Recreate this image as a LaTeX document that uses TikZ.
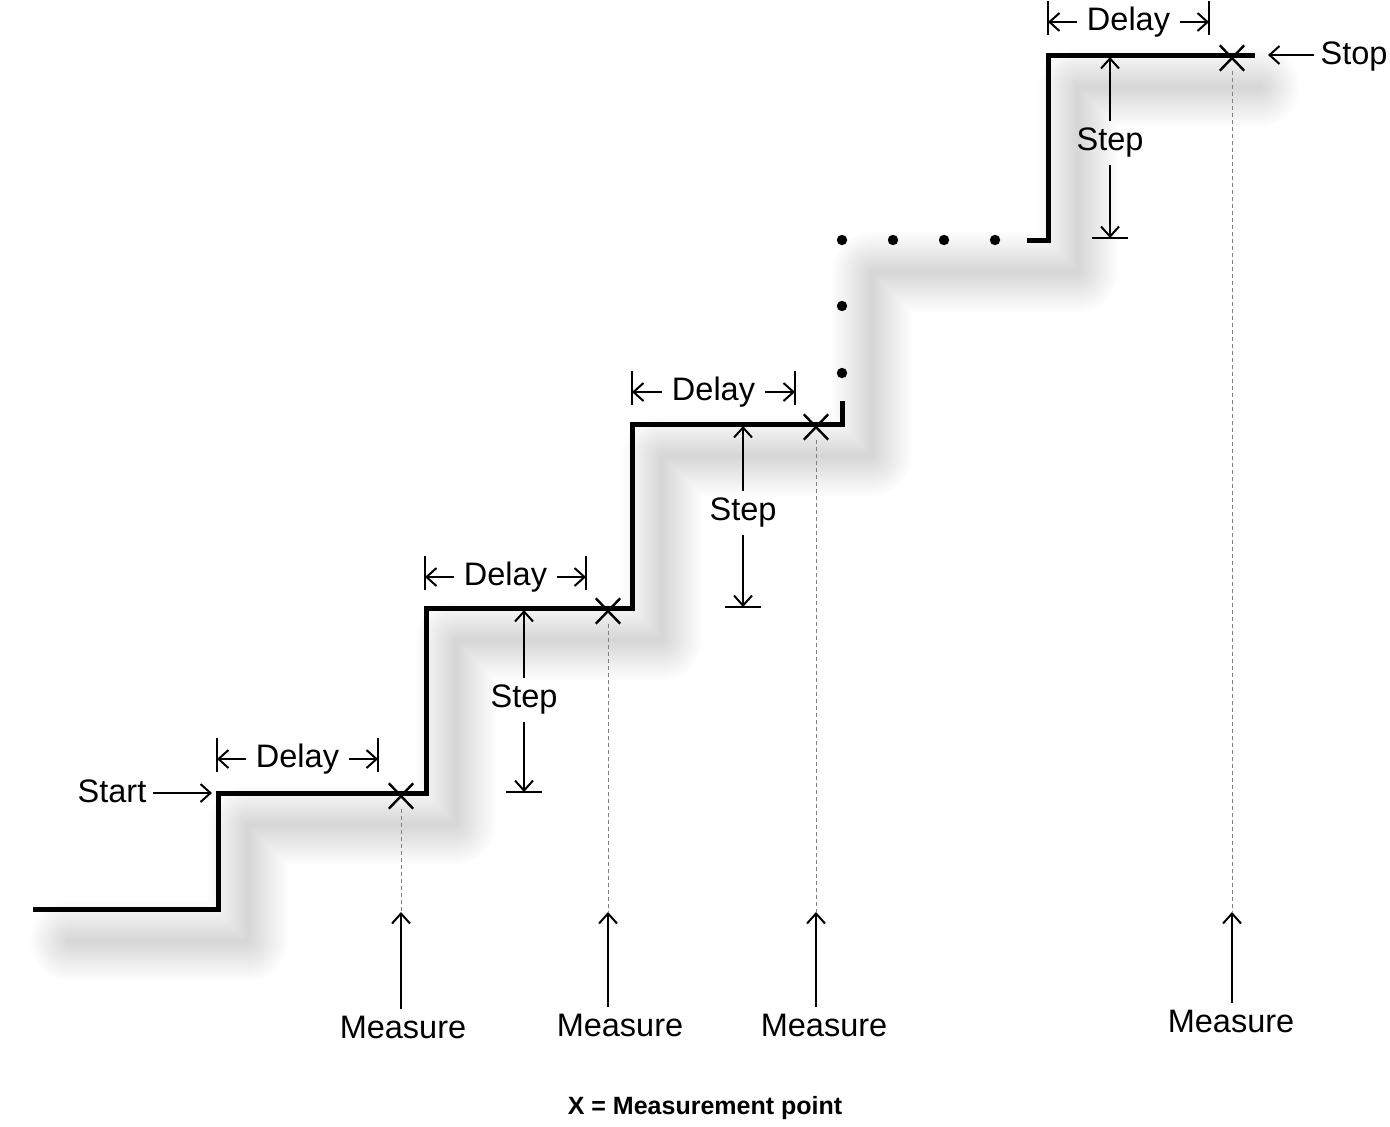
\documentclass[tikz,border=0pt]{standalone}
\usepackage{fontspec}
\setmainfont{Liberation Sans}
\usetikzlibrary{arrows.meta,shapes.misc}
\tikzset{>={Straight Barb[length=5pt,width=9pt]},
  stair/.style={line width=2.5pt},
  dimline/.style={line width=1pt},
  guide/.style={gray, line width=0.5pt, dash pattern=on 2pt off 1.5pt},
  xmark/.style={cross out, draw, line width=1.2pt, inner sep=0pt, minimum width=11pt, minimum height=11.5pt},
  lbl/.style={font=\fontsize{16.25}{19}\selectfont}}

\begin{document}
\begin{tikzpicture}[x=0.5pt,y=-0.5pt]
\useasboundingbox (0,0) rectangle (1390,1126);
\foreach \w in {2,4,...,40}
\draw[line width=\w pt, black, opacity=0.008, line join=round, line cap=round, shift={(30,32)}] (40,909) -| (218,793) -| (426,608) -| (632,424) -| (842,240) -| (1048,55) -- (1230,55);
\draw[stair] (33,909) -| (218,793) -| (426,608) -| (632,424) -| (842,401);
\draw[stair] (1027,240) -| (1048,55) -- (1255,55);
\foreach \p in {(842,240),(893,240),(944,240),(995,240),(842,306),(842,373)}
\fill \p circle (2.6pt);
\node[xmark] (x1) at (401,796) {};
\node[xmark] (x2) at (608,611) {};
\node[xmark] (x3) at (816,427) {};
\node[xmark] (x4) at (1232,58) {};
\foreach \i/\x/\lx/\ly in {1/401/403/1027, 2/608/620/1025, 3/816/824/1025, 4/1232/1231/1021}
{
\node[lbl] (meas\i) at (\lx,\ly) {Measure};
\coordinate (tip\i) at (\x,912);
\draw[dimline,->] (meas\i.north -| tip\i) -- (tip\i);
\draw[guide] (x\i.south) -- (tip\i);
}
\foreach \i/\x/\yt/\yb/\yl in {1/524/610/792/700, 2/743/426/607/513, 3/1110/57/238/143}
{
\node[lbl] (step\i) at (\x,\yl) {Step};
\coordinate (steptop\i) at (\x,\yt);
\coordinate (stepbot\i) at (\x,\yb);
\draw[dimline,->] (step\i.north) -- (steptop\i);
\draw[dimline,->] (step\i.south) -- (stepbot\i);
\draw[dimline] ([xshift=-9pt]stepbot\i) -- ([xshift=9pt]stepbot\i);
}
\foreach \i/\xa/\xb/\y in {1/217/378/759, 2/425/586/577, 3/632/795/392, 4/1048/1209/22}
{
\node[lbl, inner xsep=5pt] (delay\i) at ({(\xa+\xb)/2},\y) {Delay};
\coordinate (dl\i) at (\xa,\y);
\coordinate (dr\i) at (\xb,\y);
\draw[dimline] (\xa,\y-21) -- (\xa,\y+13);
\draw[dimline] (\xb,\y-21) -- (\xb,\y+13);
\draw[dimline,->] (delay\i.west |- dl\i) -- (dl\i);
\draw[dimline,->] (delay\i.east |- dr\i) -- (dr\i);
}
\node[lbl] (start) at (112,791) {Start};
\coordinate (startpt) at (212,793);
\draw[dimline,->] (start.east |- startpt) -- (startpt);
\node[lbl] (stop) at (1354,57) {Stop};
\coordinate (stoppt) at (1268,55);
\draw[dimline,->] (stop.west |- stoppt) -- (stoppt);
\node[font=\bfseries\fontsize{12.5}{15}\selectfont] (caption) at (705,1108) {X = Measurement point};
\end{tikzpicture}
\end{document}
